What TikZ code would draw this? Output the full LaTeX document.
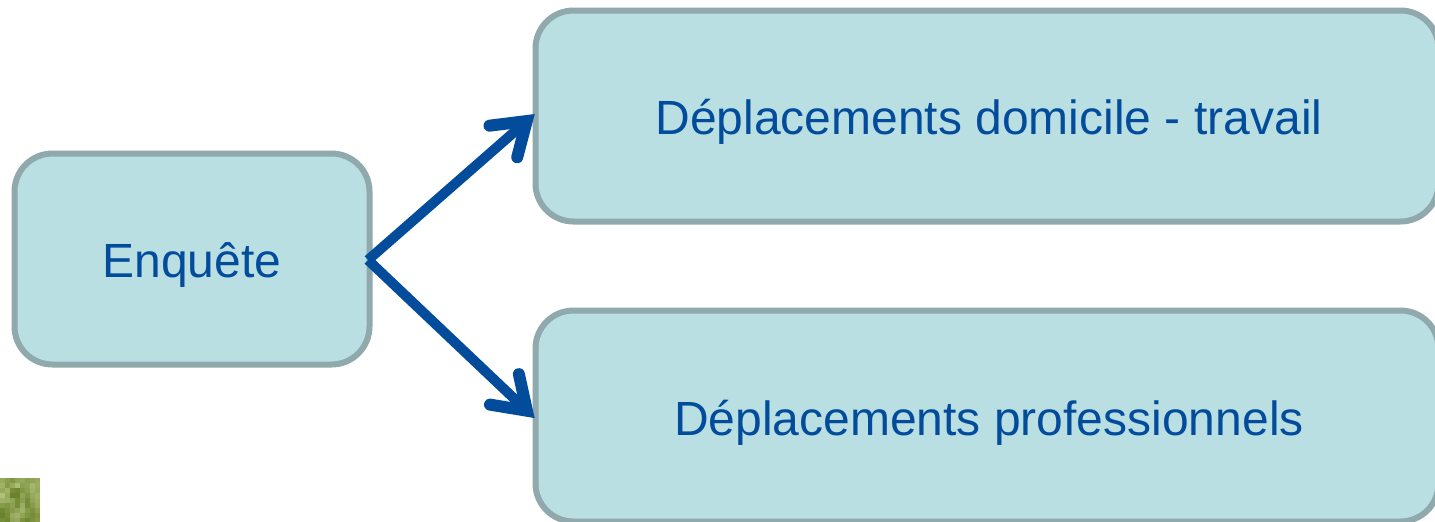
\documentclass[tikz,border=0pt]{standalone}
\usepackage{fontspec}
\setmainfont{Liberation Sans}
\usetikzlibrary{arrows.meta}
\definecolor{boxfill}{HTML}{B9DFE3}
\definecolor{boxline}{HTML}{8FA9AC}
\definecolor{ink}{HTML}{034C9C}
\definecolor{leaflight}{HTML}{C0CF8C}
\definecolor{leafdark}{HTML}{566F14}
\tikzset{
  stepbox/.style={draw=boxline,fill=boxfill,line width=6pt,rounded corners=38pt,inner sep=0pt},
  boxtext/.style={text=ink,font=\fontsize{48}{56}\selectfont,inner sep=0pt},
  link/.style={draw=ink,line width=10pt,shorten >=-3pt,-{Straight Barb[length=31pt,width=42pt,line width=12pt,line cap=round]}},
}
\begin{document}
\begin{tikzpicture}[x=1pt,y=-1pt]
\useasboundingbox (0,0) rectangle (1435,522);
\clip (0,0) rectangle (1435,522);
\fill[white] (0,0) rectangle (1435,522);
\node[stepbox,minimum width=355pt,minimum height=211pt] (enq) at (192,259) {};
\node[boxtext] (enqt) at (192,265) {Enquête};
\node[stepbox,minimum width=903pt,minimum height=211pt] (dom) at (987,116) {};
\node[boxtext] (domt) at (989,122) {Déplacements domicile - travail};
\node[stepbox,minimum width=903pt,minimum height=211pt] (pro) at (987,416) {};
\node[boxtext] (prot) at (989,423) {Déplacements professionnels};
\coordinate (src) at (368,260);
\draw[link] (src) -- (dom.west);
\draw[link] (src) -- (pro.west);
\foreach \row/\vals in {0/{60,50,40,55,60,50,55,60},1/{70,45,60,80,50,55,75,65},2/{60,70,30,25,40,50,70,60},3/{85,60,20,20,55,40,60,70},4/{70,65,55,30,50,30,55,65},5/{45,40,50,30,65,30,45,60},6/{25,35,45,55,70,45,35,50},7/{20,30,60,70,55,40,30,40},8/{30,25,55,60,35,25,35,45}}{
  \foreach \t [count=\c from 0] in \vals {
    \fill[leaflight!\t!leafdark] ({\c*5},{478+\row*5}) rectangle ({\c*5+5.2},{478+\row*5+5.2});
  }
}
\end{tikzpicture}
\end{document}
